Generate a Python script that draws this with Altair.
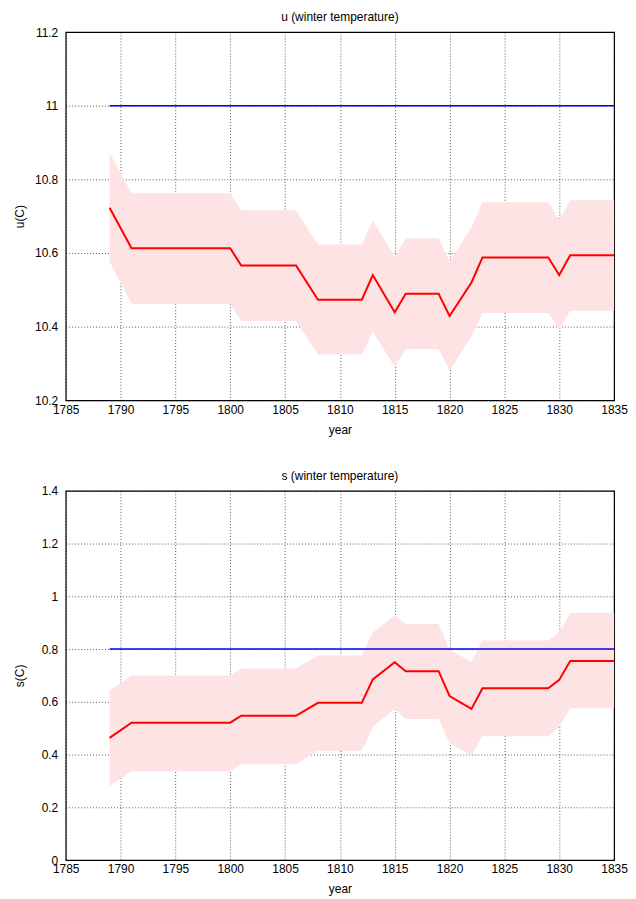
import altair as alt
import pandas as pd

# ---- top panel: u (winter temperature) ----
u_years = [1789, 1791, 1800, 1801, 1806, 1808, 1812, 1813, 1815, 1816, 1819, 1820, 1822, 1823, 1829, 1830, 1831, 1835]
u_mean = [10.723, 10.613, 10.613, 10.566, 10.566, 10.473, 10.473, 10.540, 10.439, 10.489, 10.489, 10.429, 10.520, 10.588, 10.588, 10.540, 10.594, 10.594]
u_upper = [10.872, 10.762, 10.762, 10.716, 10.716, 10.623, 10.623, 10.688, 10.590, 10.640, 10.640, 10.577, 10.670, 10.738, 10.738, 10.690, 10.743, 10.743]
u_lower = [10.576, 10.462, 10.462, 10.415, 10.415, 10.324, 10.324, 10.387, 10.290, 10.339, 10.339, 10.280, 10.373, 10.437, 10.437, 10.393, 10.443, 10.443]
u_ref_years = [1789, 1835]
u_ref = [11.0, 11.0]

# ---- bottom panel: s (winter temperature) ----
s_years = [1789, 1791, 1800, 1801, 1806, 1808, 1812, 1813, 1815, 1816, 1819, 1820, 1822, 1823, 1829, 1830, 1831, 1835]
s_mean = [0.463, 0.521, 0.521, 0.547, 0.547, 0.596, 0.596, 0.685, 0.750, 0.716, 0.716, 0.622, 0.573, 0.651, 0.651, 0.683, 0.755, 0.755]
s_upper = [0.643, 0.700, 0.700, 0.726, 0.726, 0.776, 0.776, 0.863, 0.927, 0.895, 0.895, 0.797, 0.753, 0.832, 0.832, 0.863, 0.938, 0.938]
s_lower = [0.282, 0.337, 0.337, 0.363, 0.363, 0.414, 0.414, 0.504, 0.574, 0.535, 0.535, 0.444, 0.396, 0.469, 0.469, 0.504, 0.576, 0.576]
s_ref_years = [1789, 1835]
s_ref = [0.8, 0.8]

x_ticks = [1785, 1790, 1795, 1800, 1805, 1810, 1815, 1820, 1825, 1830, 1835]
u_ticks = [10.2, 10.4, 10.6, 10.8, 11.0, 11.2]
s_ticks = [0, 0.2, 0.4, 0.6, 0.8, 1.0, 1.2, 1.4]

FONT = "Liberation Sans"


def panel(years, mean, lower, upper, ref_years, ref, yticks, ydom, ytitle, title, w, h):
    df = pd.DataFrame({"year": years, "mean": mean, "lower": lower, "upper": upper})
    rdf = pd.DataFrame({"year": ref_years, "ref": ref})
    xs = alt.Scale(domain=[1785, 1835], nice=False, zero=False)
    ys = alt.Scale(domain=ydom, nice=False, zero=False)
    xaxis = alt.Axis(values=x_ticks, format="d", title="year", labelPadding=4, titlePadding=9,
                     labelFlush=False, labelOverlap=False)
    yaxis = alt.Axis(values=yticks, format="~g", title=ytitle, labelPadding=8,
                     minExtent=28, maxExtent=28, titlePadding=11.5, labelFlush=False)
    band = alt.Chart(df).mark_area(color="#fde3e3", opacity=1).encode(
        x=alt.X("year:Q", scale=xs, axis=xaxis),
        y=alt.Y("lower:Q", scale=ys, axis=yaxis),
        y2="upper:Q",
    )
    line = alt.Chart(df).mark_line(color="#ff0000", strokeWidth=2).encode(
        x=alt.X("year:Q", scale=xs),
        y=alt.Y("mean:Q", scale=ys),
    )
    refl = alt.Chart(rdf).mark_line(color="#0000ff", strokeWidth=1.5).encode(
        x=alt.X("year:Q", scale=xs),
        y=alt.Y("ref:Q", scale=ys),
    )
    return alt.layer(band, line, refl).properties(
        width=w, height=h,
        title=alt.TitleParams(title, fontSize=12, fontWeight="normal", font=FONT, offset=2),
    )


top = panel(u_years, u_mean, u_lower, u_upper, u_ref_years, u_ref, u_ticks, [10.2, 11.2], "u(C)",
            "u (winter temperature)", 551, 370)
bottom = panel(s_years, s_mean, s_lower, s_upper, s_ref_years, s_ref, s_ticks, [0, 1.4], "s(C)",
               "s (winter temperature)", 551, 371)

chart = alt.vconcat(top, bottom, spacing=33).configure(
    background="white", padding={"left": 4, "top": 0, "right": 0, "bottom": 0}
).configure_view(
    stroke="black", strokeWidth=1.2
).configure_axis(
    labelFont=FONT, titleFont=FONT, labelFontSize=12, titleFontSize=12,
    titleFontWeight="normal", labelColor="black", titleColor="black",
    grid=True, gridColor="black", gridDash=[1, 2], gridOpacity=0.65, gridWidth=1,
    ticks=False, domain=False,
)

chart.save("out.html", embed_options={"renderer": "svg", "actions": False})
